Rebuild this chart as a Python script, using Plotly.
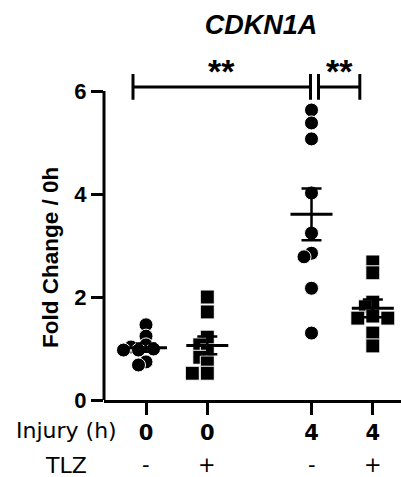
import numpy as np
import plotly.graph_objects as go

# ---------------- data ----------------
groups = ["0h / vehicle", "0h / TLZ", "4h / vehicle", "4h / TLZ"]
injury_labels = ["0", "0", "4", "4"]
tlz_labels = ["-", "+", "-", "+"]
g_0h_veh = [1.46, 1.24, 1.07, 1.03, 0.99, 0.97, 0.97, 0.74, 0.68]
g_0h_tlz = [2.00, 1.71, 1.22, 1.07, 0.95, 0.83, 0.72, 0.52, 0.52]
g_4h_veh = [5.63, 5.38, 5.07, 4.02, 3.24, 2.85, 2.78, 2.17, 1.30]
g_4h_tlz = [2.68, 2.47, 1.90, 1.81, 1.63, 1.59, 1.59, 1.30, 1.05]
y_ticks = [0, 2, 4, 6]
significance = ["**", "**"]

series = [g_0h_veh, g_0h_tlz, g_4h_veh, g_4h_tlz]

# ---------------- layout constants ----------------
W, H = 401, 477
ML, MR, MT, MB = 104, 0, 60, 77
plot_w = W - ML - MR
plot_h = H - MT - MB
positions = [0.0, 1.0, 2.7, 3.7]
px_per_x = 61.3
x_range = [-(146 - ML) / px_per_x, -(146 - ML) / px_per_x + plot_w / px_per_x]
px_per_y = 51.5
y_range = [0, plot_h / px_per_y]
symbols = ["circle", "square", "circle", "square"]
msize = 14
font_arial = "Liberation Sans, Arial, sans-serif"
font_verd = "DejaVu Sans, Verdana, sans-serif"


def beeswarm(values, center, min_dist=8.0, step=7.5):
    """Spread points sideways so markers overlap only a little (pixel space)."""
    placed = []
    xs = [None] * len(values)
    order = sorted(range(len(values)), key=lambda i: -values[i])
    cands = [0]
    for k in range(1, 12):
        cands += [-k * step, k * step]
    for i in order:
        yv = values[i] * px_per_y
        for c in cands:
            ok = all((c - px) ** 2 + (yv - py) ** 2 >= min_dist ** 2 for px, py in placed)
            if ok:
                placed.append((c, yv))
                xs[i] = center + c / px_per_x
                break
    return xs


fig = go.Figure()
for vals, pos, sym, name in zip(series, positions, symbols, groups):
    fig.add_trace(go.Scatter(
        x=beeswarm(vals, pos), y=vals, mode="markers", name=name,
        marker=dict(symbol=sym, size=msize, color="black",
                    line=dict(color="white", width=1)),
        cliponaxis=False, showlegend=False,
    ))

means = [float(np.mean(v)) for v in series]
sems = [float(np.std(v, ddof=1) / np.sqrt(len(v))) for v in series]

fig.add_trace(go.Scatter(
    x=positions, y=means, mode="markers",
    marker=dict(size=1, color="rgba(0,0,0,0)"),
    error_y=dict(type="data", array=sems, visible=True, color="black",
                 thickness=2.5, width=10),
    showlegend=False, hoverinfo="skip",
))

shapes = []
half_mean = 21 / px_per_x
for pos, m in zip(positions, means):
    shapes.append(dict(type="line", xref="x", yref="y", x0=pos - half_mean, x1=pos + half_mean,
                       y0=m, y1=m, line=dict(color="black", width=3)))

# y axis line from 0 to 6
shapes.append(dict(type="line", xref="paper", yref="y", x0=0, x1=0, y0=0, y1=y_ticks[-1],
                   line=dict(color="black", width=3)))

# significance brackets
bar_y = 6.08
cap_lo, cap_hi = 5.83, 6.33
brackets = [(positions[0] - 13 / px_per_x, positions[2] - 1 / px_per_x),
            (positions[2] + 7 / px_per_x, positions[3] - 13 / px_per_x)]
for (xa, xb), star in zip(brackets, significance):
    shapes.append(dict(type="line", xref="x", yref="y", x0=xa, x1=xb, y0=bar_y, y1=bar_y,
                       line=dict(color="black", width=3)))
    for xc in (xa, xb):
        shapes.append(dict(type="line", xref="x", yref="y", x0=xc, x1=xc, y0=cap_lo, y1=cap_hi,
                           line=dict(color="black", width=3)))


def py_to_paper(py):
    return (H - MB - py) / plot_h


def px_to_paper(px):
    return (px - ML) / plot_w


annotations = []
for (xa, xb), star in zip(brackets, significance):
    annotations.append(dict(x=(xa + xb) / 2, y=py_to_paper(71), xref="x", yref="paper",
                            text="<b>" + star + "</b>",
                            showarrow=False, yanchor="middle", xanchor="center",
                            font=dict(family=font_arial, size=34, color="black")))

annotations.append(dict(x=px_to_paper(66), y=py_to_paper(431), xref="paper", yref="paper",
                        text="Injury (h)", showarrow=False, xanchor="center", yanchor="middle",
                        font=dict(family=font_verd, size=22, color="black")))
annotations.append(dict(x=px_to_paper(66), y=py_to_paper(465), xref="paper", yref="paper",
                        text="TLZ", showarrow=False, xanchor="center", yanchor="middle",
                        font=dict(family=font_verd, size=22, color="black")))
for pos, lab in zip(positions, tlz_labels):
    annotations.append(dict(x=pos, y=py_to_paper(465), xref="x", yref="paper",
                            text=lab, showarrow=False, xanchor="center", yanchor="middle",
                            font=dict(family=font_verd, size=21, color="black")))

annotations.append(dict(x=px_to_paper(50), y=py_to_paper(258), xref="paper", yref="paper",
                        text="<b>Fold Change / 0h</b>", textangle=-90, showarrow=False,
                        xanchor="center", yanchor="middle",
                        font=dict(family=font_arial, size=22.5, color="black")))

fig.update_layout(
    width=W, height=H,
    margin=dict(l=ML, r=MR, t=MT, b=MB, pad=0),
    plot_bgcolor="white", paper_bgcolor="white",
    title=dict(text="<b><i>CDKN1A</i></b>", x=px_to_paper(261), xref="paper", xanchor="center",
               y=1 - 25 / H, yref="container", yanchor="middle",
               font=dict(family=font_arial, size=27, color="black")),
    shapes=shapes, annotations=annotations,
    xaxis=dict(range=x_range, showgrid=False, zeroline=False, showline=True, linecolor="black",
               linewidth=3, ticks="outside", ticklen=12, tickwidth=3, tickcolor="black",
               tickvals=positions, ticktext=["<b>" + t + "</b>" for t in injury_labels],
               tickfont=dict(family=font_verd, size=21, color="black"), fixedrange=True),
    yaxis=dict(range=y_range, showgrid=False, zeroline=False, showline=False,
               ticks="outside", ticklen=12, tickwidth=3, tickcolor="black",
               tickvals=y_ticks, ticktext=["<b>%d</b>" % t for t in y_ticks],
               tickfont=dict(family=font_arial, size=22, color="black"), fixedrange=True),
)

fig.write_html("out.html", config={"displayModeBar": False},
               post_script="document.body.style.margin='0';document.body.style.overflow='hidden';")
